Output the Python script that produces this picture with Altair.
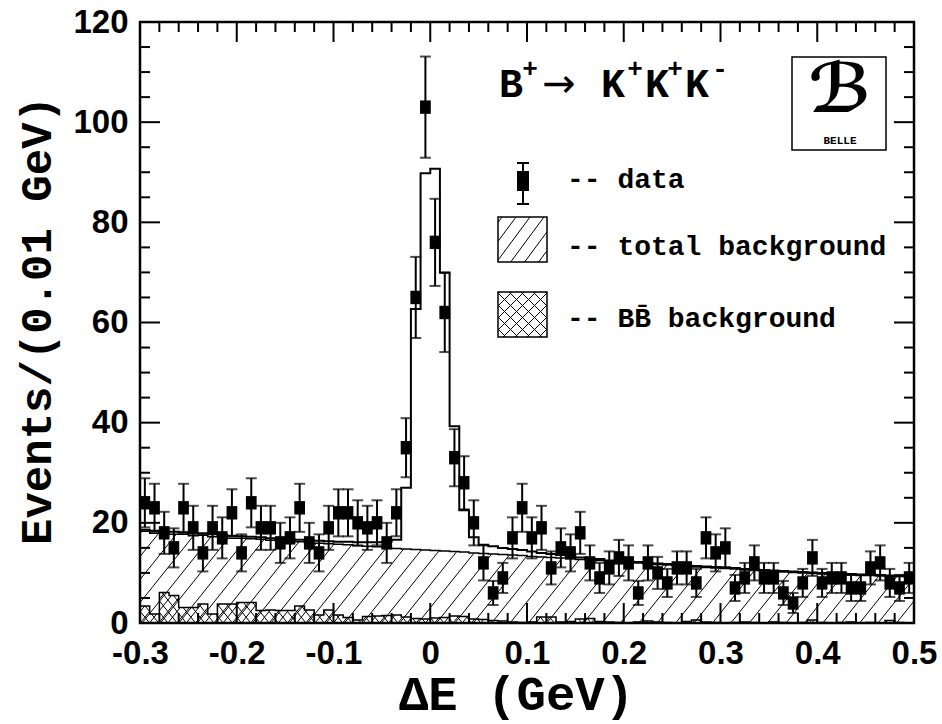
import numpy as np
import pandas as pd
import altair as alt

# ---------------- data ----------------
x_lo, x_hi = -0.3, 0.5
bin_w = 0.01
y_top = 120

counts = [24, 23, 18, 15, 23, 19, 14, 19, 17, 22,
          14, 24, 19, 19, 16, 17, 23, 16, 14, 19,
          22, 22, 20, 19, 20, 16, 22, 35, 65, 103,
          76, 62, 33, 28, 20, 12, 6, 9, 17, 23,
          17, 19, 11, 15, 14, 18, 12, 9, 11, 13,
          12, 6, 12, 10, 8, 11, 11, 8, 17, 14,
          15, 7, 9, 12, 9, 9, 6, 4, 8, 13,
          8, 9, 9, 7, 7, 11, 12, 8, 7, 9]

errors = [4.9, 4.8, 4.2, 3.9, 4.8, 4.4, 3.7, 4.4, 4.1, 4.7,
          3.7, 4.9, 4.4, 4.4, 4.0, 4.1, 4.8, 4.0, 3.7, 4.4,
          4.7, 4.7, 4.5, 4.4, 4.5, 4.0, 4.7, 5.9, 8.1, 10.1,
          8.7, 7.9, 5.7, 5.3, 4.5, 3.5, 2.4, 3.0, 4.1, 4.8,
          4.1, 4.4, 3.3, 3.9, 3.7, 4.2, 3.5, 3.0, 3.3, 3.6,
          3.5, 2.4, 3.5, 3.2, 2.8, 3.3, 3.3, 2.8, 4.1, 3.7,
          3.9, 2.6, 3.0, 3.5, 3.0, 3.0, 2.4, 2.0, 2.8, 3.6,
          2.8, 3.0, 3.0, 2.6, 2.6, 3.3, 3.5, 2.8, 2.6, 3.0]

fit_levels = [18.6, 18.4, 18.3, 18.2, 18.0, 17.9, 17.9, 17.7, 17.6, 17.4,
              17.3, 17.2, 17.1, 16.9, 16.8, 16.7, 16.6, 16.5, 16.4, 16.3,
              16.2, 16.2, 16.1, 16.1, 16.1, 16.2, 16.6, 27.0, 62.7, 89.8,
              90.7, 70.0, 39.3, 22.5, 17.1, 15.6, 15.3, 15.0, 14.8, 14.6,
              14.3, 14.0, 13.8, 13.6, 13.4, 13.1, 12.9, 12.8, 12.5, 12.4,
              12.3, 12.2, 12.0, 11.9, 11.8, 11.7, 11.5, 11.4, 11.3, 11.2,
              11.1, 11.0, 10.8, 10.7, 10.6, 10.5, 10.4, 10.3, 10.2, 10.1,
              10.0, 10.0, 9.9, 9.8, 9.7, 9.7, 9.6, 9.5, 9.5, 9.4]

bkg_levels = [18.3, 17.9, 18.0, 17.7, 17.7, 17.4, 17.5, 17.2, 17.3, 16.9,
              16.9, 16.8, 16.7, 16.5, 16.4, 16.3, 16.2, 16.0, 15.9, 15.8,
              15.7, 15.6, 15.4, 15.3, 15.2, 15.1, 14.9, 14.8, 14.7, 14.6,
              14.5, 14.4, 14.3, 14.2, 14.0, 13.9, 13.8, 13.7, 13.6, 13.5,
              13.3, 13.2, 13.1, 13.0, 12.9, 12.7, 12.6, 12.5, 12.3, 12.2,
              12.1, 12.0, 11.8, 11.7, 11.6, 11.5, 11.3, 11.2, 11.1, 11.0,
              10.9, 10.8, 10.6, 10.5, 10.4, 10.3, 10.2, 10.1, 10.0, 9.9,
              9.8, 9.8, 9.7, 9.6, 9.5, 9.5, 9.4, 9.3, 9.3, 9.2]

bb_levels = [3.4, 1.8, 6.1, 5.5, 3.1, 3.1, 3.8, 1.8, 3.8, 3.8,
             4.1, 4.1, 2.5, 2.6, 2.5, 2.5, 3.4, 2.6, 1.6, 2.6,
             1.6, 1.1, 0.6, 1.3, 1.4, 1.5, 1.6, 1.2, 0.9, 0.8,
             1.0, 1.1, 1.4, 1.3, 0.8, 0.7, 0.5, 0.4, 0.2, 0.1,
             0.2, 1.2, 1.2, 0.2, 0.3, 0.8, 0.9, 0.3, 0.2, 0.1,
             0.0, 0.2, 0.4, 0.2, 0.1, 0.0, 0.3, 0.6, 0.2, 0.1,
             0.0, 0.1, 0.2, 0.1, 0.0, 0.2, 0.1, 0.0, 0.1, 0.6,
             0.1, 0.0, 0.1, 0.2, 0.0, 0.1, 0.0, 0.5, 0.1, 0.0]

x_major = [-0.3, -0.2, -0.1, 0.0, 0.1, 0.2, 0.3, 0.4, 0.5]
x_minor = [-0.28, -0.26, -0.24, -0.22, -0.18, -0.16, -0.14, -0.12,
           -0.08, -0.06, -0.04, -0.02, 0.02, 0.04, 0.06, 0.08,
           0.12, 0.14, 0.16, 0.18, 0.22, 0.24, 0.26, 0.28,
           0.32, 0.34, 0.36, 0.38, 0.42, 0.44, 0.46, 0.48]
y_major = [0, 20, 40, 60, 80, 100, 120]
y_minor = [5, 10, 15, 25, 30, 35, 45, 50, 55, 65, 70, 75, 85, 90, 95, 105, 110, 115]

# ---------------- layout ----------------
L, T, W, H = 140, 22, 774, 601
R, B = 942 - L - W, 724 - T - H
sx = W / (x_hi - x_lo)
sy = H / y_top

n = len(counts)
edges = np.round(x_lo + bin_w * np.arange(n + 1), 4)
centers = np.round(edges[:-1] + bin_w / 2, 4)

pts = pd.DataFrame({"x": centers, "y": counts, "err": errors})
pts["lo"] = pts["y"] - pts["err"]
pts["hi"] = pts["y"] + pts["err"]


def step_df(levels):
    return pd.DataFrame({"x": edges, "lvl": list(levels) + [levels[-1]],
                         "top": y_top})


fit_df = step_df(fit_levels)
bkg_df = step_df(bkg_levels)
bb_df = step_df(bb_levels)

xs = alt.Scale(domain=[x_lo, x_hi], nice=False, zero=False)
ys = alt.Scale(domain=[0, y_top], nice=False, zero=False)


# hatch lines in data space (pattern decoration)
def hatch(slope_px, spacing_px, ymax, direction, start_px):
    run = (ymax * sy / slope_px) / sx
    step = spacing_px / sx
    rows = []
    x0 = x_lo + start_px / sx - 2 * run
    while x0 < x_hi + 2 * run:
        rows.append({"x": x0, "y": 0.0, "x2": x0 + direction * run, "y2": ymax})
        x0 += step
    return pd.DataFrame(rows)


main_sp = 18.4
hatch_main = hatch(1.25, main_sp, 25, 1, 0.0)
hatch_bb = pd.concat([hatch(1.25, main_sp / 2, 8, 1, 0.0),
                      hatch(1.25, main_sp / 2, 8, -1, 0.0)])


def to_data(px, py):
    return x_lo + (px - L) / sx, (T + H - py) / sy


def box_hatch(bx0, by0, bx1, by1, slope, spacing, direction, offset=0.0):
    w, h = bx1 - bx0, by1 - by0
    rows = []
    c = -h / slope + offset
    while c < w:
        xa, xb = max(0.0, c), min(w, c + h / slope)
        if xb > xa:
            ya, yb = slope * (xa - c), slope * (xb - c)
            if direction == 1:
                pa, pb = bx0 + xa, bx0 + xb
            else:
                pa, pb = bx1 - xa, bx1 - xb
            x1d, y1d = to_data(pa, by1 - ya)
            x2d, y2d = to_data(pb, by1 - yb)
            rows.append({"x": x1d, "y": y1d, "x2": x2d, "y2": y2d})
        c += spacing
    return pd.DataFrame(rows)


leg_hatch = box_hatch(498, 217, 547, 262, 1.35, 14, 1, 4)
leg_cross = pd.concat([box_hatch(498, 292, 547, 337, 1.0, 12, 1, 2),
                       box_hatch(498, 292, 547, 337, 1.0, 12, -1, 2)])


# ---------------- layers ----------------
def rules(df, width=1.0):
    return alt.Chart(df).mark_rule(color="black", strokeWidth=width, clip=True).encode(
        x=alt.X("x:Q", scale=xs, axis=None), y=alt.Y("y:Q", scale=ys, axis=None),
        x2="x2:Q", y2="y2:Q")


def cover(df):
    return alt.Chart(df).mark_area(interpolate="step-after", color="white", opacity=1,
                                   clip=True).encode(
        x=alt.X("x:Q", scale=xs, axis=None), y=alt.Y("lvl:Q", scale=ys, axis=None),
        y2="top:Q")


def outline(df, width):
    return alt.Chart(df).mark_line(interpolate="step-after", color="black",
                                   strokeWidth=width, clip=True).encode(
        x=alt.X("x:Q", scale=xs, axis=None), y=alt.Y("lvl:Q", scale=ys, axis=None))


layers = [
    rules(hatch_bb, 1.0),
    cover(bb_df),
    rules(hatch_main, 1.0),
    cover(bkg_df),
    outline(bb_df, 1.5),
    outline(bkg_df, 1.5),
    outline(fit_df, 2.0),
]

# data points with error bars
base = alt.Chart(pts)
layers += [
    base.mark_rule(color="black", strokeWidth=2, clip=True).encode(
        x=alt.X("x:Q", scale=xs, axis=None), y=alt.Y("lo:Q", scale=ys, axis=None), y2="hi:Q"),
    base.mark_tick(orient="horizontal", size=11, thickness=2, color="black", clip=True).encode(
        x=alt.X("x:Q", scale=xs, axis=None), y=alt.Y("lo:Q", scale=ys, axis=None)),
    base.mark_tick(orient="horizontal", size=11, thickness=2, color="black", clip=True).encode(
        x=alt.X("x:Q", scale=xs, axis=None), y=alt.Y("hi:Q", scale=ys, axis=None)),
    base.mark_point(shape="M-0.8,-1H0.8V1H-0.8Z", filled=True, size=180, opacity=1,
                    color="black", clip=True).encode(
        x=alt.X("x:Q", scale=xs, axis=None), y=alt.Y("y:Q", scale=ys, axis=None)),
]

# ---------------- inward ticks on all four sides + frame ----------------
def xticks(values, length):
    d = pd.DataFrame({"v": values})
    c = alt.Chart(d).mark_rule(color="black", strokeWidth=2)
    return [c.encode(x=alt.X("v:Q", scale=xs, axis=None), y=alt.value(H), y2=alt.value(H - length)),
            c.encode(x=alt.X("v:Q", scale=xs, axis=None), y=alt.value(0), y2=alt.value(length))]


def yticks(values, length):
    d = pd.DataFrame({"v": values})
    c = alt.Chart(d).mark_rule(color="black", strokeWidth=2)
    return [c.encode(y=alt.Y("v:Q", scale=ys, axis=None), x=alt.value(0), x2=alt.value(length)),
            c.encode(y=alt.Y("v:Q", scale=ys, axis=None), x=alt.value(W), x2=alt.value(W - length))]


one = pd.DataFrame({"k": [0]})
layers += xticks(x_major, 20) + xticks(x_minor, 10) + yticks(y_major, 20) + yticks(y_minor, 10)
layers.append(alt.Chart(one).mark_rect(fill="transparent", stroke="black", strokeWidth=2.5).encode(
    x=alt.value(0), x2=alt.value(W), y=alt.value(0), y2=alt.value(H)))


# ---------------- legend / annotations ----------------
def txt(s, x, y, size, font="Liberation Mono", weight="bold", align="left",
        baseline="alphabetic"):
    return alt.Chart(one).mark_text(text=s, font=font, fontSize=size, fontWeight=weight,
                                    align=align, baseline=baseline, color="black").encode(
        x=alt.value(x - L), y=alt.value(y - T))


def rect(x0, y0, x1, y1, fill=None, sw=1.5):
    kw = dict(stroke="black", strokeWidth=sw)
    if fill is None:
        kw["fill"] = "transparent"
    else:
        kw["fill"] = fill
        kw["strokeWidth"] = 0
    return alt.Chart(one).mark_rect(**kw).encode(
        x=alt.value(x0 - L), x2=alt.value(x1 - L), y=alt.value(y0 - T), y2=alt.value(y1 - T))


def seg(x0, y0, x1, y1, sw=2):
    return alt.Chart(one).mark_rule(color="black", strokeWidth=sw).encode(
        x=alt.value(x0 - L), x2=alt.value(x1 - L), y=alt.value(y0 - T), y2=alt.value(y1 - T))


layers += [
    # title  B+ -> K+ K+ K-
    txt("B", 511, 97, 40, align="center"),
    txt("+", 530, 77, 26, align="center"),
    txt("\u2192", 559, 97, 40, font="DejaVu Sans", weight="normal", align="center"),
    txt("K", 613, 97, 40, align="center"),
    txt("+", 635, 77, 26, align="center"),
    txt("K", 657, 97, 40, align="center"),
    txt("+", 675, 77, 26, align="center"),
    txt("K", 697, 97, 40, align="center"),
    txt("-", 720, 77, 26, align="center"),
    # Belle logo
    rect(792, 57, 886, 150),
    txt("\u212C", 840, 92, 68, font="DejaVu Sans", weight="bold", align="center",
        baseline="middle"),
    txt("BELLE", 840, 144, 11, align="center"),
    # legend: data
    seg(523, 163, 523, 204),
    seg(517, 163, 529, 163),
    seg(517, 204, 529, 204),
    rect(517, 171, 529, 191, fill="black"),
    txt("-- data", 567, 188, 28),
    # legend: total background
    rules(leg_hatch, 1.0),
    rect(498, 217, 547, 262),
    txt("-- total background", 567, 255, 28),
    # legend: BB background
    rules(leg_cross, 1.0),
    rect(498, 292, 547, 337),
    txt("-- BB\u0304 background", 567, 327, 28),
]

# ---------------- labelled axes ----------------
lab = dict(labelFont="Liberation Sans", labelFontWeight="bold", labelFontSize=33,
           labelColor="black", labelOverlap=False, labelFlush=False, grid=False)

axA_x = alt.Axis(orient="bottom", values=x_major, ticks=False, tickSize=0, domain=False,
                 labelPadding=14,
                 labelExpr="datum.value == 0 ? '0' : (datum.value < 0 ? '-' : '') + format(abs(datum.value), '.1f')",
                 title="\u0394E (GeV)", titleFont="Liberation Mono", titleFontWeight="bold",
                 titleFontSize=49, titleColor="black", titleX=376, titleY=86,
                 titleAlign="center", titleBaseline="alphabetic", titleAnchor="start", **lab)
axA_y = alt.Axis(orient="left", values=y_major, ticks=False, tickSize=0, domain=False,
                 labelPadding=12, format="d",
                 title="Events/(0.01 GeV)", titleFont="Liberation Mono", titleFontWeight="bold",
                 titleFontSize=44, titleColor="black", titleAngle=270, titleX=-90, titleY=298,
                 titleAlign="center", titleBaseline="alphabetic", titleAnchor="start", **lab)

layers.append(alt.Chart(fit_df).mark_point(opacity=0).encode(
    x=alt.X("x:Q", scale=xs, axis=axA_x), y=alt.Y("lvl:Q", scale=ys, axis=axA_y)))

chart = alt.layer(*layers).resolve_axis(x="independent", y="independent").properties(
    width=W, height=H,
    padding={"left": L, "top": T, "right": R, "bottom": B},
    autosize=alt.AutoSizeParams(type="none"),
    background="white",
).configure_view(stroke=None)

chart.save("out.html", embed_options={"renderer": "svg", "actions": False})
